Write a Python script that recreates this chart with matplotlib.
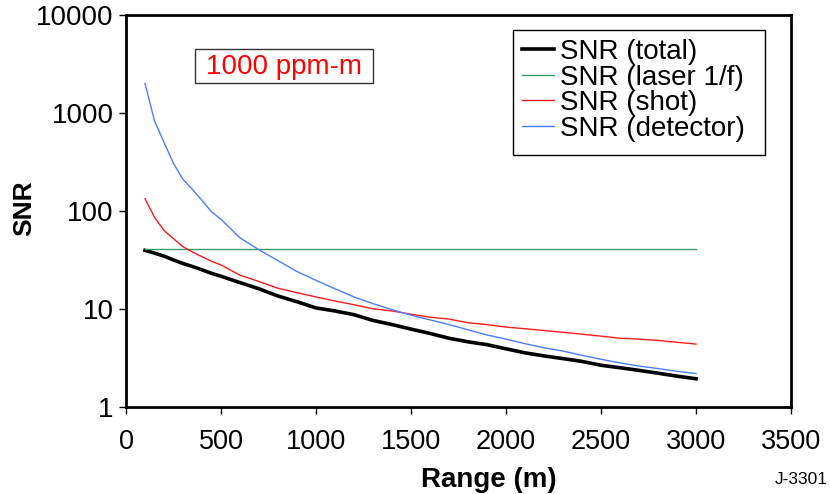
import matplotlib
matplotlib.use("Agg")
import matplotlib.pyplot as plt
from matplotlib.patches import Rectangle
from matplotlib.ticker import FixedLocator, NullLocator

plt.rcParams['font.family'] = ['Liberation Sans', 'DejaVu Sans']

# Data
range_m = [100, 150, 200, 250, 300, 350, 400, 450, 500, 600, 700, 800, 900, 1000,
           1100, 1200, 1300, 1400, 1500, 1600, 1700, 1800, 1900, 2000,
           2100, 2200, 2300, 2400, 2500, 2600, 2700, 2800, 2900, 3000]
snr_total = [39.5, 37, 34.5, 31.5, 29, 27, 25, 23, 21.5, 18.5, 16, 13.5, 11.8, 10.2,
             9.5, 8.7, 7.6, 6.9, 6.2, 5.6, 5.0, 4.6, 4.3, 3.9,
             3.55, 3.3, 3.1, 2.9, 2.65, 2.5, 2.35, 2.2, 2.05, 1.93]
snr_laser = [41] * 34
snr_shot = [133, 86, 63, 52, 43, 38, 34, 30.5, 28, 22, 19, 16.2, 14.6, 13.2,
            12, 11, 10, 9.5, 8.8, 8.2, 7.85, 7.2, 6.9, 6.5,
            6.25, 6.0, 5.75, 5.5, 5.25, 5.0, 4.9, 4.75, 4.55, 4.36]
snr_detector = [2000, 830, 500, 305, 210, 165, 128, 98, 82, 53, 40, 31, 24, 19.5,
                16, 13.2, 11.3, 9.8, 8.6, 7.7, 6.9, 6.1, 5.4, 4.9,
                4.4, 4.0, 3.7, 3.35, 3.05, 2.8, 2.6, 2.45, 2.3, 2.18]

series_labels = ['SNR (total)', 'SNR (laser 1/f)', 'SNR (shot)', 'SNR (detector)']
x_ticks = [0, 500, 1000, 1500, 2000, 2500, 3000, 3500]
y_ticks = [1, 10, 100, 1000, 10000]
y_tick_labels = ['1', '10', '100', '1000', '10000']

W, H = 830, 494
fig = plt.figure(figsize=(W / 100, H / 100), dpi=100)
ax = fig.add_axes([126 / W, 1 - 406.7 / H, (791 - 126) / W, (406.7 - 15) / H])

ax.plot(range_m, snr_total, color='black', lw=2.6, label=series_labels[0])
ax.plot(range_m, snr_laser, color='#3a9a68', lw=1.0, label=series_labels[1])
ax.plot(range_m, snr_shot, color='#ff1a1a', lw=1.0, label=series_labels[2])
ax.plot(range_m, snr_detector, color='#4a7dff', lw=1.0, label=series_labels[3])

ax.set_yscale('log')
ax.set_xlim(0, 3500)
ax.set_ylim(1, 10000)
ax.xaxis.set_major_locator(FixedLocator(x_ticks))
ax.yaxis.set_major_locator(FixedLocator(y_ticks))
ax.yaxis.set_minor_locator(NullLocator())
ax.set_yticklabels(y_tick_labels)
ax.set_xticklabels([str(v) for v in x_ticks])

for s in ax.spines.values():
    s.set_linewidth(2.0)
ax.tick_params(axis='both', direction='out', length=5, width=1.0, color='black')
ax.tick_params(axis='y', labelsize=20, pad=4)
ax.tick_params(axis='x', labelsize=19.5, pad=11)

fig.text(489 / W, 1 - 487 / H, 'Range (m)', fontsize=20, fontweight='bold',
         ha='center', va='baseline')
fig.text(24 / W, 1 - 208 / H, 'SNR', fontsize=19, fontweight='bold',
         ha='center', va='center', rotation=90)

leg = ax.legend(loc='upper left', bbox_to_anchor=(513 / W, 1 - 30 / H),
                bbox_transform=fig.transFigure, fontsize=20, frameon=False,
                borderaxespad=0, borderpad=0.33, handlelength=1.15,
                handletextpad=0.22, labelspacing=-0.02)
fig.add_artist(Rectangle((513 / W, 1 - 155 / H), 252 / W, 125 / H,
                         transform=fig.transFigure, facecolor='none',
                         edgecolor='black', lw=1.0, zorder=5))

fig.add_artist(Rectangle((195 / W, 1 - 83 / H), 178 / W, 34 / H,
                         transform=fig.transFigure, facecolor='white',
                         edgecolor='#333333', lw=1.0))
fig.text(284 / W, 1 - 66.5 / H, '1000 ppm-m', color='red', fontsize=20,
         ha='center', va='center')

fig.text(828 / W, 1 - 479 / H, 'J-3301', fontsize=12.5, ha='right', va='center')

fig.savefig('out.png', dpi=100)
